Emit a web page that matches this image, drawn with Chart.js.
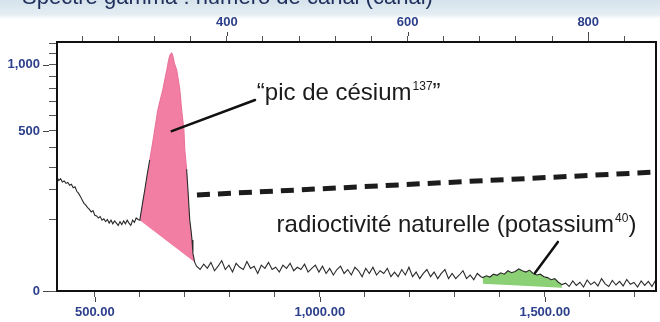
<!DOCTYPE html>
<html>
<head>
<meta charset="utf-8">
<script src="https://cdn.jsdelivr.net/npm/chart.js@4.4.1/dist/chart.umd.min.js"></script>
<style>
  html, body { margin: 0; padding: 0; background: #fff; }
</style>
</head>
<body>
<canvas id="spectre" width="660" height="322"></canvas>
<script>
// spectre gamma : énergie (keV) et nombre de coups
const energy = [
  416,420,424,428,432,436,440,444,448,452,456,460,464,468,472,476,480,484,488,492,496,500,504,508,512,516,520,524,528,532,536,540,544,548,552,556,560,564,568,572,576,580,584,588,592,596,
  600,606,611,616,622,628,633,640,646,651,656,660,664,667,671,673,677,682,686,689,693,698,700,704,707,711,714,716,718,722,
  726,734,742,750,758,766,774,782,790,798,806,814,822,830,838,846,854,862,870,878,886,894,902,910,918,926,934,942,950,958,
  966,974,982,990,998,1006,1014,1022,1030,1038,1046,1054,1062,1070,1078,1086,1094,1102,1110,1118,1126,1134,1142,1150,1158,1166,1174,1182,1190,1198,
  1206,1214,1222,1230,1238,1246,1254,1262,1270,1278,1286,1294,1302,1310,1318,1326,1334,1342,1350,1358,
  1362,1370,1378,1386,1394,1402,1410,1418,1426,1434,1442,1450,1458,1466,1474,1482,1490,1498,1506,1514,1522,1530,1538,
  1546,1554,1562,1570,1578,1586,1594,1602,1610,1618,1626,1634,1642,1650,1658,1666,1674,1682,1690,1698,1706,1714,1722,1730,1738,1746
];
const counts = [
  252,238,246,232,236,226,230,218,222,208,212,194,186,174,162,150,144,136,130,122,126,112,110,104,108,98,102,94,100,90,98,88,96,90,84,94,86,96,88,98,90,84,98,92,104,100,
  98,150,199,260,335,420,506,639,720,788,880,953,1040,1086,1105,1086,1010,953,860,788,639,506,388,290,199,98,70,51,28,16,
  12,9,14,10,16,8,12,18,9,13,7,15,11,9,17,10,12,6,13,10,16,9,11,7,13,10,15,8,11,9,
  14,7,10,13,7,12,6,10,5,9,12,6,9,5,11,8,4,10,6,11,5,8,6,10,4,7,4,9,5,11,
  4,7,3,6,9,4,7,3,6,9,3,6,3,5,8,3,5,2.5,6,4,
  3.5,4.5,3.8,5.5,4.8,6.5,5.5,8,6.5,7.5,9.5,8,7,8.5,6,5,5.5,4,3.5,2.5,3,1.5,0.8,
  1.2,0.4,2,0.6,1.5,0.3,2.4,0.8,1.6,0.5,3,1,0.4,2.2,0.7,1.8,0.5,2.6,0.9,1.4,0.3,2,0.6,1.8,0.4,2.2
];

// zones colorées (pic du césium 137, potassium 40) et leur ligne de base
const cesiumRange = [600, 722];
const cesiumBaseE = [600, 722];
const cesiumBaseC = [98, 16];
const potassiumRange = [1362, 1538];
const potassiumBaseE = [1362, 1538];
const potassiumBaseC = [1.0, 0.2];

// ligne en tirets
const dashE = [727, 1747];
const dashC = [180, 276];

// graduations
const energyTicks = [500, 600, 700, 800, 900, 1000, 1100, 1200, 1300, 1400, 1500, 1600, 1700];
const energyLabelled = [500, 1000, 1500];
const energyLabelText = ['500.00', '1,000.00', '1,500.00'];
const channelTicks = [240, 280, 320, 360, 400, 440, 480, 520, 560, 600, 640, 680, 720, 760, 800, 840];
const channelLabelled = [400, 600, 800];
const channelLabelText = ['400', '600', '800'];
const countTicks = [0, 100, 200, 300, 400, 500, 600, 700, 800, 900, 1000, 1100, 1200];
const countLabelled = [0, 500, 1000];
const countLabelText = ['0', '500', '1,000'];

function pts(xs, ys) {
  return xs.map((v, i) => ({ x: v, y: ys[i] }));
}
function inRange(r) {
  return energy.map((e, i) => ({ x: e, y: counts[i] })).filter(p => p.x >= r[0] && p.x <= r[1]);
}

// échelle racine carrée pour l'axe des coups
class SqrtScale extends Chart.LinearScale {
  getPixelForValue(value) {
    if (value === null || value === undefined || isNaN(value)) return NaN;
    const a = Math.sqrt(this.min), b = Math.sqrt(this.max);
    return this.getPixelForDecimal((Math.sqrt(Math.max(0, value)) - a) / (b - a));
  }
  getValueForPixel(pixel) {
    const a = Math.sqrt(this.min), b = Math.sqrt(this.max);
    const s = a + this.getDecimalForPixel(pixel) * (b - a);
    return s * s;
  }
}
SqrtScale.id = 'sqrt';
SqrtScale.defaults = {};
Chart.register(SqrtScale);

const labelColor = '#2c3f8a';
const tickFont = { family: 'Liberation Sans, Arial, sans-serif', size: 13, weight: 'bold' };
const textFont = '24px "Liberation Sans", Arial, sans-serif';
const supFont = '12px "Liberation Sans", Arial, sans-serif';

function labelFor(list, texts) {
  return v => {
    const i = list.indexOf(v);
    return i < 0 ? '' : texts[i];
  };
}

const notes = {
  id: 'notes',
  beforeDraw(chart) {
    const ctx = chart.ctx;
    ctx.save();
    ctx.fillStyle = '#fff';
    ctx.fillRect(0, 0, chart.width, chart.height);
    const g = ctx.createLinearGradient(0, 0, 0, 19);
    g.addColorStop(0, '#d6e3ec');
    g.addColorStop(0.75, '#e4edf2');
    g.addColorStop(1, '#ffffff');
    ctx.fillStyle = g;
    ctx.fillRect(0, 0, chart.width, 19);
    ctx.fillStyle = '#1f2f5c';
    ctx.font = '22px "Liberation Sans", Arial, sans-serif';
    ctx.textBaseline = 'alphabetic';
    ctx.fillText('Spectre gamma : numéro de canal (canal)', 22, 4);
    ctx.restore();
  },
  afterDatasetsDraw(chart) {
    const { ctx, chartArea: a, scales } = chart;
    const x = scales.x, y = scales.y;
    ctx.save();
    // cadre
    ctx.strokeStyle = '#111';
    ctx.lineWidth = 2;
    ctx.strokeRect(a.left, a.top, a.right - a.left, a.bottom - a.top);

    // graduations principales plus longues
    ctx.strokeStyle = '#444';
    ctx.lineWidth = 1;
    ctx.beginPath();
    energyLabelled.forEach(v => {
      const px = Math.round(x.getPixelForValue(v)) + 0.5;
      ctx.moveTo(px, a.bottom + 6); ctx.lineTo(px, a.bottom + 11);
    });
    channelLabelled.forEach(v => {
      const px = Math.round(scales.x2.getPixelForValue(v)) + 0.5;
      ctx.moveTo(px, a.top - 6); ctx.lineTo(px, a.top - 10);
    });
    countLabelled.forEach(v => {
      const py = Math.round(y.getPixelForValue(v)) + 0.5;
      ctx.moveTo(a.left - 8, py); ctx.lineTo(a.left - 14, py);
    });
    ctx.stroke();

    // traits de rappel
    ctx.strokeStyle = '#111';
    ctx.lineWidth = 2.5;
    ctx.lineCap = 'round';
    ctx.beginPath();
    ctx.moveTo(x.getPixelForValue(671), y.getPixelForValue(499));
    ctx.lineTo(x.getPixelForValue(856), y.getPixelForValue(712));
    ctx.moveTo(x.getPixelForValue(1478), y.getPixelForValue(6.3));
    ctx.lineTo(x.getPixelForValue(1529), y.getPixelForValue(47));
    ctx.stroke();

    // textes
    ctx.fillStyle = '#1b1b1b';
    ctx.textBaseline = 'alphabetic';
    let tx = x.getPixelForValue(860), ty = y.getPixelForValue(711);
    ctx.font = textFont;
    const t1 = '\u201cpic de césium';
    ctx.fillText(t1, tx, ty);
    tx += ctx.measureText(t1).width + 1;
    ctx.font = supFont;
    ctx.fillText('137', tx, ty - 10);
    tx += ctx.measureText('137').width;
    ctx.font = textFont;
    ctx.fillText('\u201d', tx, ty);

    tx = x.getPixelForValue(904); ty = y.getPixelForValue(68);
    const t2 = 'radioctivité naturelle (potassium';
    ctx.fillText(t2, tx, ty);
    tx += ctx.measureText(t2).width + 1;
    ctx.font = supFont;
    ctx.fillText('40', tx, ty - 10);
    tx += ctx.measureText('40').width;
    ctx.font = textFont;
    ctx.fillText(')', tx, ty);
    ctx.restore();
  }
};

new Chart(document.getElementById('spectre'), {
  type: 'line',
  data: {
    datasets: [
      {
        label: 'spectre',
        data: pts(energy, counts),
        borderColor: '#2a2a2a',
        borderWidth: 1.1,
        pointRadius: 0,
        tension: 0,
        fill: false,
        segment: {
          borderColor: c => (c.p0.parsed.x >= 622 && c.p1.parsed.x <= 704) ? '#ea7399' : undefined
        }
      },
      {
        label: 'césium',
        data: inRange(cesiumRange),
        borderWidth: 0,
        pointRadius: 0,
        backgroundColor: '#f27fa3',
        fill: 2
      },
      {
        label: 'base césium',
        data: pts(cesiumBaseE, cesiumBaseC),
        borderWidth: 0,
        pointRadius: 0,
        fill: false
      },
      {
        label: 'potassium',
        data: inRange(potassiumRange),
        borderWidth: 0,
        pointRadius: 0,
        backgroundColor: '#8bd075',
        fill: 4
      },
      {
        label: 'base potassium',
        data: pts(potassiumBaseE, potassiumBaseC),
        borderWidth: 0,
        pointRadius: 0,
        fill: false
      },
      {
        label: 'tirets',
        data: pts(dashE, dashC),
        borderColor: '#1c1c1c',
        borderWidth: 5,
        borderDash: [13, 8],
        borderCapStyle: 'butt',
        pointRadius: 0,
        fill: false
      }
    ]
  },
  options: {
    responsive: false,
    animation: false,
    events: [],
    layout: { padding: { left: 0, right: 4, top: 0, bottom: 0 } },
    plugins: {
      legend: { display: false },
      tooltip: { enabled: false }
    },
    scales: {
      x: {
        type: 'linear',
        position: 'bottom',
        min: 416,
        max: 1747,
        afterBuildTicks: s => { s.ticks = energyTicks.map(v => ({ value: v })); },
        afterFit: s => { s.height = 31; },
        border: { display: false },
        grid: { drawOnChartArea: false, drawTicks: true, tickLength: 6, tickColor: '#555' },
        ticks: {
          autoSkip: false, maxRotation: 0, padding: 8,
          color: labelColor, font: tickFont,
          callback: labelFor(energyLabelled, energyLabelText)
        }
      },
      x2: {
        type: 'linear',
        position: 'top',
        min: 212,
        max: 875,
        afterBuildTicks: s => { s.ticks = channelTicks.map(v => ({ value: v })); },
        afterFit: s => { s.height = 42; },
        border: { display: false },
        grid: { drawOnChartArea: false, drawTicks: true, tickLength: 6, tickColor: '#555' },
        ticks: {
          autoSkip: false, maxRotation: 0, padding: 6,
          color: labelColor, font: tickFont,
          callback: labelFor(channelLabelled, channelLabelText)
        }
      },
      y: {
        type: 'sqrt',
        position: 'left',
        min: 0,
        max: 1210,
        afterBuildTicks: s => { s.ticks = countTicks.map(v => ({ value: v })); },
        afterFit: s => { s.width = 57; },
        border: { display: false },
        grid: { drawOnChartArea: false, drawTicks: true, tickLength: 8, tickColor: '#555' },
        ticks: {
          autoSkip: false, padding: 9,
          color: labelColor, font: tickFont,
          callback: labelFor(countLabelled, countLabelText)
        }
      }
    }
  },
  plugins: [notes]
});
</script>
</body>
</html>
